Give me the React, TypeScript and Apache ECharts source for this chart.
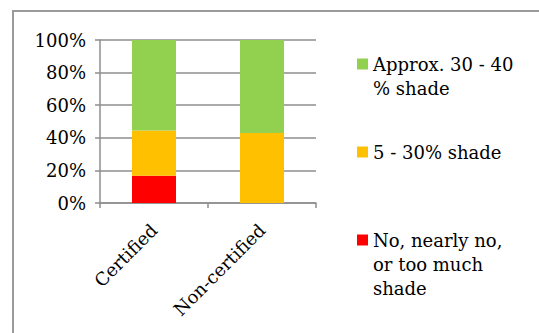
import React, { useEffect, useRef } from "react";
import * as echarts from "echarts";

const categories = ["Certified", "Non-certified"];
const seriesNames = ["No, nearly no, or too much shade", "5 - 30% shade", "Approx. 30 - 40 % shade"];
const legendLabels = ["No, nearly no,\nor too much\nshade", "5 - 30% shade", "Approx. 30 - 40\n% shade"];
const seriesColors = ["#FF0000", "#FFC000", "#92D050"];
const noShade = [16.7, 0];
const lowShade = [27.8, 42.9];
const goodShade = [55.5, 57.1];
const yTicks = [0, 20, 40, 60, 80, 100];

const FONT = "DejaVu Serif";

export default function App() {
  const ref = useRef<HTMLDivElement>(null);
  useEffect(() => {
    if (!ref.current) return;
    const chart = echarts.init(ref.current, undefined, { renderer: "svg" });
    const values = [noShade, lowShade, goodShade];
    // legend order top to bottom: green, orange, red
    const legendOrder = [2, 1, 0];
    const centers = [64, 152, 240];
    const legendEls: any[] = [];
    legendOrder.forEach((si, i) => {
      legendEls.push({
        type: "rect",
        shape: { x: 357, y: centers[i] - 5.5, width: 11, height: 11 },
        style: { fill: seriesColors[si] },
      });
      legendEls.push({
        type: "text",
        x: 373,
        y: centers[i] - 12,
        style: {
          text: legendLabels[si],
          font: `18px "${FONT}"`,
          fill: "#000",
          lineHeight: 24,
          verticalAlign: "top",
          align: "left",
        },
      });
    });
    const gray = "#8e8e8e";
    chart.setOption({
      animation: false,
      backgroundColor: "#fff",
      grid: { left: 100, right: 223, top: 40, bottom: 130 },
      xAxis: {
        type: "category",
        data: categories,
        axisLine: { show: true, lineStyle: { color: gray, width: 1.5 } },
        axisTick: { show: true, length: 5, lineStyle: { color: gray, width: 1.5 } },
        axisLabel: {
          rotate: 45,
          margin: 24,
          fontFamily: FONT,
          fontSize: 18,
          color: "#000",
        },
      },
      yAxis: {
        type: "value",
        min: yTicks[0],
        max: yTicks[yTicks.length - 1],
        interval: 20,
        axisLine: { show: true, lineStyle: { color: gray, width: 1.5 } },
        axisTick: { show: true, length: 5, lineStyle: { color: gray, width: 1.5 } },
        splitLine: { show: true, lineStyle: { color: gray, width: 1.5 } },
        axisLabel: {
          formatter: "{value}%",
          margin: 14,
          fontFamily: FONT,
          fontSize: 18,
          color: "#000",
        },
      },
      series: values.map((v, i) => ({
        name: seriesNames[i],
        type: "bar",
        stack: "total",
        data: v,
        barWidth: 44,
        itemStyle: { color: seriesColors[i] },
      })),
      graphic: [
        {
          type: "rect",
          shape: { x: 13, y: 11, width: 600, height: 400 },
          style: { fill: "none", stroke: "#9a9a9a", lineWidth: 2 },
          silent: true,
        },
        ...legendEls,
      ],
    });
    return () => chart.dispose();
  }, []);
  return (
    <div
      ref={ref}
      style={{ position: "fixed", left: 0, top: 0, width: 539, height: 333 }}
    />
  );
}
